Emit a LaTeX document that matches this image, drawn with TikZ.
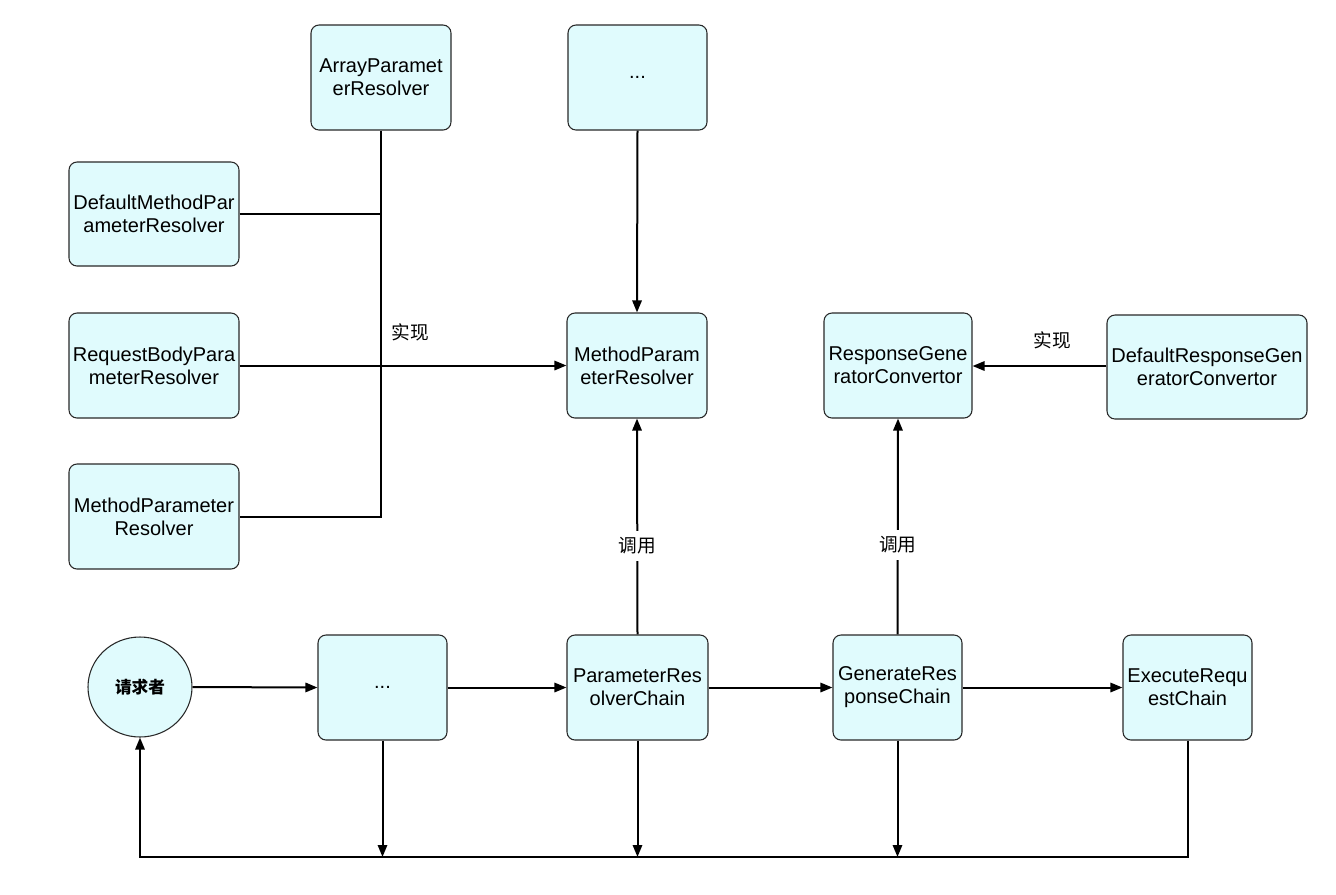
\documentclass[tikz,border=0pt]{standalone}
\usepackage{fontspec}
\setmainfont{Liberation Sans}
\newfontfamily\cjk{Noto Sans CJK SC}
\usetikzlibrary{arrows.meta,shapes.geometric}
\definecolor{boxfill}{RGB}{224,251,253}
\definecolor{edgecol}{RGB}{40,40,40}
\begin{document}
\begin{tikzpicture}[x=0.75pt,y=-0.75pt,
  box/.style={draw=edgecol, line width=0.8pt, fill=boxfill, rounded corners=6pt,
    align=center, inner sep=0pt, font=\fontsize{15}{17.25}\selectfont},
  wh/.style 2 args={minimum width=#1*0.75pt, minimum height=#2*0.75pt},
  conn/.style={line width=1.5pt, draw=black},
  arr/.style={conn, -{Triangle[length=9pt,width=7pt]}},
  lbl/.style={font=\cjk\fontsize{14}{16}\selectfont, inner sep=2pt},
]
\path[use as bounding box] (0,0) rectangle (1336,894);

% nodes
\node[box, wh={140}{105}] (arr) at (381,77.5) {ArrayParamet\\erResolver};
\node[box, wh={139}{105}] (topdots) at (637.5,77.5) {...};
\node[box, wh={170}{104}] (dmpr) at (154,214) {DefaultMethodPar\\ameterResolver};
\node[box, wh={170}{105}] (rbpr) at (154,365.5) {RequestBodyPara\\meterResolver};
\node[box, wh={170}{105}] (lmpr) at (154,516.5) {MethodParameter\\Resolver};
\node[box, wh={140}{105}] (mpr) at (637,365.5) {MethodParam\\eterResolver};
\node[box, wh={148}{105}] (rgc) at (898,365.5) {ResponseGene\\ratorConvertor};
\node[box, wh={200}{104}] (drgc) at (1207,367) {DefaultResponseGen\\eratorConvertor};
\node[draw=edgecol, line width=0.8pt, fill=boxfill, ellipse, wh={104}{100}, inner sep=0pt,
      font=\cjk\bfseries\fontsize{12.5}{14}\selectfont] (req) at (140,687) {请求者};
\node[box, wh={129}{105}] (dots) at (382.5,687.5) {...};
\node[box, wh={141}{105}] (prc) at (637.5,687.5) {ParameterRes\\olverChain};
\node[box, wh={129}{105}] (grc) at (897.5,687.5) {GenerateRes\\ponseChain};
\node[box, wh={129}{105}] (erc) at (1187.5,687.5) {ExecuteRequ\\estChain};

\coordinate (b0) at (140,857);

% implementation tree on the left
\draw[conn] (arr.south) |- (lmpr.east);
\draw[conn] (dmpr.east) -- (dmpr.east -| arr.south);
\draw[arr] (rbpr.east) -- (mpr.west);
\node[lbl] (impl1) at (410,332) {实现};

% top dots to MPR
\draw[arr] (topdots.south) -- (mpr.north);

% calls
\draw[arr] (prc.north) -- node[pos=0.41, lbl, fill=white, inner ysep=5pt] (call1) {调用} (mpr.south);
\draw[arr] (grc.north) -- node[pos=0.415, lbl, fill=white, inner ysep=5pt] (call2) {调用} (rgc.south);

% implementation on the right
\draw[arr] (drgc.west |- 0,366) -- (rgc.east |- 0,366);
\node[lbl] (impl2) at (1052,340) {实现};

% main chain
\draw[arr] (req.east) -- (dots.west);
\draw[arr] (dots.east) -- (prc.west);
\draw[arr] (prc.east) -- (grc.west);
\draw[arr] (grc.east) -- (erc.west);

% return lines
\draw[arr] (dots.south) -- (dots.south |- b0);
\draw[arr] (prc.south) -- (prc.south |- b0);
\draw[arr] (grc.south) -- (grc.south |- b0);
\draw[arr] (erc.south) |- (b0) -- (req.south);
\end{tikzpicture}
\end{document}
